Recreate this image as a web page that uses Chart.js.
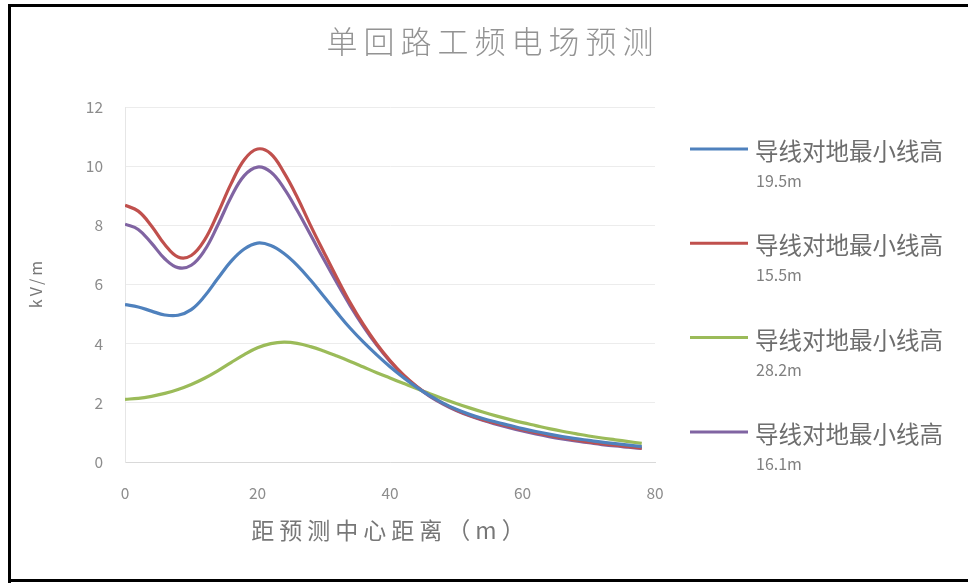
<!DOCTYPE html>
<html>
<head>
<meta charset="utf-8">
<title>单回路工频电场预测</title>
<script src="https://cdn.jsdelivr.net/npm/chart.js@4.4.1/dist/chart.umd.min.js"></script>
<style>
  html, body { margin: 0; padding: 0; background: #ffffff; }
  #wrap { position: relative; width: 968px; height: 583px; }
</style>
</head>
<body>
<div id="wrap"><canvas id="c" width="968" height="583"></canvas></div>
<script>
// Distance from the line centre (m)
const distances = [0, 2, 4, 6, 8, 10, 12, 14, 16, 18, 20, 22, 24, 26, 28, 30, 32, 34, 36, 38,
                   40, 42, 44, 46, 48, 50, 52, 54, 56, 58, 60, 62, 64, 66, 68, 70, 72, 74, 76, 78];

// Power-frequency electric field (kV/m) for each minimum conductor height
const field195 = [5.32, 5.24, 5.1, 4.97, 4.96, 5.15, 5.6, 6.2, 6.78, 7.2, 7.4, 7.32, 7.05, 6.65, 6.15, 5.6, 5.05, 4.52, 4.05, 3.62,
                  3.22, 2.86, 2.53, 2.24, 1.99, 1.78, 1.61, 1.47, 1.35, 1.24, 1.13, 1.03, 0.94, 0.86, 0.79, 0.73, 0.67, 0.62, 0.57, 0.52];
const field155 = [8.68, 8.48, 7.98, 7.35, 6.93, 6.98, 7.5, 8.4, 9.4, 10.22, 10.58, 10.42, 9.78, 8.95, 8.0, 7.1, 6.22, 5.38, 4.64, 3.99,
                  3.43, 2.95, 2.56, 2.24, 1.98, 1.76, 1.58, 1.43, 1.31, 1.2, 1.09, 0.99, 0.9, 0.82, 0.75, 0.68, 0.62, 0.57, 0.52, 0.47];
const field282 = [2.12, 2.15, 2.22, 2.32, 2.45, 2.62, 2.83, 3.08, 3.36, 3.63, 3.86, 4.0, 4.05, 4.01, 3.9, 3.75, 3.58, 3.4, 3.21, 3.02,
                  2.84, 2.66, 2.48, 2.31, 2.14, 1.98, 1.83, 1.69, 1.56, 1.44, 1.33, 1.23, 1.13, 1.04, 0.96, 0.88, 0.81, 0.75, 0.69, 0.63];
const field161 = [8.04, 7.86, 7.4, 6.87, 6.57, 6.65, 7.15, 8.0, 8.95, 9.68, 9.97, 9.8, 9.25, 8.5, 7.68, 6.85, 6.05, 5.28, 4.58, 3.95,
                  3.4, 2.93, 2.54, 2.22, 1.96, 1.74, 1.56, 1.41, 1.28, 1.16, 1.05, 0.95, 0.86, 0.78, 0.71, 0.65, 0.59, 0.54, 0.5, 0.46];

const seriesPrefix = '导线对地最小线高';
const seriesHeights = ['19.5m', '15.5m', '28.2m', '16.1m'];
const seriesValues = [field195, field155, field282, field161];
const seriesColors = ['#4f81bd', '#c0504d', '#9bbb59', '#8064a2'];

const xTicks = [0, 20, 40, 60, 80];
const yTicks = [0, 2, 4, 6, 8, 10, 12];

const chartTitle = '单回路工频电场预测';
const xTitle = '距预测中心距离（m）';
const yTitle = 'kV/m';

const FONT = '"Noto Sans CJK SC", "Noto Sans", sans-serif';

const datasets = seriesValues.map((vals, i) => ({
  label: seriesPrefix + ' ' + seriesHeights[i],
  data: distances.map((d, k) => ({ x: d, y: vals[k] })),
  borderColor: seriesColors[i],
  backgroundColor: seriesColors[i],
  borderWidth: 3.2,
  pointRadius: 0,
  tension: 0.4,
  fill: false
}));

function spacedText(ctx, text, x, y, spacing) {
  // centre a letter-spaced string on x
  ctx.letterSpacing = spacing + 'px';
  const w = ctx.measureText(text).width - spacing;
  ctx.textAlign = 'left';
  ctx.fillText(text, x - w / 2, y);
  ctx.letterSpacing = '0px';
}

const decorations = {
  id: 'decorations',
  beforeDraw(chart) {
    const ctx = chart.ctx;
    ctx.save();
    ctx.fillStyle = '#ffffff';
    ctx.fillRect(0, 0, chart.width, chart.height);
    // outer frame
    ctx.fillStyle = '#000000';
    ctx.fillRect(8, 4, 3, 579);
    ctx.fillRect(8, 4, 960, 3);
    ctx.fillRect(8, 579, 960, 3);
    ctx.restore();
  },
  afterDraw(chart) {
    const ctx = chart.ctx;
    const area = chart.chartArea;
    ctx.save();
    ctx.textBaseline = 'middle';

    // chart title
    ctx.fillStyle = '#939393';
    ctx.font = '300 31px ' + FONT;
    spacedText(ctx, chartTitle, 490, 41, 6);

    // x axis title
    ctx.fillStyle = '#777777';
    ctx.font = '23px ' + FONT;
    spacedText(ctx, xTitle, 388, 530, 5);

    // y axis title
    ctx.save();
    ctx.translate(36, (area.top + area.bottom) / 2);
    ctx.rotate(-Math.PI / 2);
    ctx.font = '16px ' + FONT;
    spacedText(ctx, yTitle, 0, 0, 3);
    ctx.restore();

    // legend
    chart.data.datasets.forEach((ds, i) => {
      const cy = 149 + i * 94.3;
      ctx.strokeStyle = ds.borderColor;
      ctx.lineWidth = 3;
      ctx.beginPath();
      ctx.moveTo(690, cy);
      ctx.lineTo(748, cy);
      ctx.stroke();
      const parts = ds.label.split(' ');
      ctx.fillStyle = '#6e6e6e';
      ctx.textAlign = 'left';
      ctx.font = '23.5px ' + FONT;
      ctx.fillText(parts[0], 755, cy + 2);
      ctx.fillStyle = '#808080';
      ctx.font = '16px ' + FONT;
      ctx.fillText(parts[1], 756, cy + 32);
    });
    ctx.restore();
  }
};

new Chart(document.getElementById('c'), {
  type: 'line',
  data: { datasets },
  options: {
    responsive: false,
    animation: false,
    layout: { padding: { left: 60, right: 313, top: 107, bottom: 66 } },
    plugins: {
      legend: { display: false },
      title: { display: false },
      tooltip: { enabled: false }
    },
    scales: {
      x: {
        type: 'linear',
        min: 0,
        max: 80,
        afterBuildTicks(scale) { scale.ticks = xTicks.map(v => ({ value: v })); },
        afterFit(scale) { scale.height = 55; },
        grid: { display: false, drawTicks: false },
        border: { display: true, color: '#d9d9d9', width: 1 },
        ticks: { padding: 22, color: '#8c8c8c', font: { family: FONT, size: 15.5 } }
      },
      y: {
        min: 0,
        max: 12,
        afterBuildTicks(scale) { scale.ticks = yTicks.map(v => ({ value: v })); },
        afterFit(scale) { scale.width = 65; },
        grid: { color: '#ececec', lineWidth: 1, drawTicks: false },
        border: { display: true, color: '#e6e6e6', width: 1 },
        ticks: { padding: 22, color: '#8c8c8c', font: { family: FONT, size: 15.5 } }
      }
    }
  },
  plugins: [decorations]
});
</script>
</body>
</html>
